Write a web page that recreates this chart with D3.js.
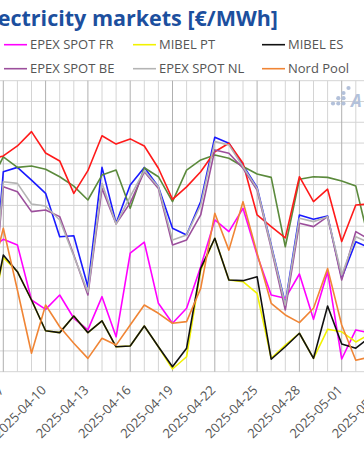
<!DOCTYPE html>
<html><head><meta charset="utf-8">
<script src="https://cdn.jsdelivr.net/npm/d3@7/dist/d3.min.js"></script>
<style>html,body{margin:0;padding:0;background:#fff;overflow:hidden}</style>
</head><body><div id="chart"></div>
<script>
// Dates: 2025-04-06 .. 2025-05-03
const dates = d3.range(28).map(i => new Date(Date.UTC(2025, 3, 6 + i)));
const tickDates = d3.range(10).map(i => new Date(Date.UTC(2025, 3, 7 + 3 * i)));

const seriesNames = ["S1", "S2", "S3", "EPEX SPOT FR", "MIBEL PT", "MIBEL ES", "EPEX SPOT BE", "EPEX SPOT NL", "Nord Pool"];
const seriesColors = ["#1a1aff", "#5b8a3c", "#ff1a1a", "#ff00ff", "#f2f200", "#111111", "#9c4f9c", "#b4b4b4", "#f08535"];

const blueVals   = [15, 96.2, 98.3, 92.2, 85.8, 64.9, 65.4, 40.9, 98.3, 71.4, 89.8, 98.3, 89.0, 69.0, 65.8, 81.8, 112.8, 109.9, 99.4, 88.7, 61.0, 32.9, 75.4, 73.3, 74.9, 45.0, 62.5, 59.5];
const greenVals  = [89.8, 103.4, 98.3, 99.0, 97.4, 93.8, 89.3, 82.6, 94.6, 97.0, 78.6, 98.1, 93.8, 81.8, 97.0, 101.9, 104.3, 102.7, 98.7, 95.1, 93.5, 60.1, 92.6, 93.8, 93.5, 91.7, 89.3, 61.0];
const redVals    = [101.9, 103.8, 108.6, 115.5, 105.2, 101.4, 85.8, 96.7, 113.5, 109.5, 112.0, 108.6, 97.9, 82.9, 88.9, 96.2, 105.8, 109.9, 100.3, 75.4, 69.8, 64.4, 93.8, 81.8, 87.8, 62.6, 80.2, 80.7];
const epexFR     = [58.5, 63.7, 61.0, 34.5, 30.0, 36.9, 25.7, 20.1, 36.1, 16.8, 57.0, 62.3, 32.9, 23.3, 30.5, 50.5, 73.0, 67.4, 78.6, 56.1, 36.9, 35.3, 47.0, 25.2, 48.1, 6.1, 20.1, 18.6];
const mibelPT    = [20.0, 55.0, 48.1, 34.5, 19.7, 18.8, 26.8, 18.8, 24.5, 12.0, 12.4, 22.0, 12.0, 1.3, 7.2, 48.9, 64.2, 44.1, 43.3, 37.7, 6.4, 12.8, 18.5, 6.4, 20.4, 19.2, 14.3, 18.1];
const mibelES    = [22.0, 56.1, 48.1, 34.5, 19.7, 18.8, 26.8, 18.8, 24.5, 12.0, 12.4, 22.0, 12.0, 2.4, 11.3, 49.7, 64.2, 44.1, 43.8, 45.7, 6.0, 12.0, 18.5, 6.4, 31.6, 13.3, 11.3, 16.7];
const epexBE     = [12, 89.0, 86.6, 77.0, 77.8, 74.6, 56.1, 36.9, 88.2, 71.1, 81.2, 96.2, 88.2, 61.0, 63.4, 75.4, 106.7, 105.1, 97.9, 87.4, 59.5, 29.7, 71.4, 69.8, 74.6, 44.1, 67.4, 63.4];
const epexNL     = [14, 91.4, 90.6, 80.7, 79.7, 73.0, 55.7, 38.3, 90.6, 71.1, 84.2, 96.7, 89.0, 63.4, 65.8, 80.2, 110.7, 109.1, 98.6, 88.2, 60.5, 32.1, 73.8, 72.2, 74.6, 46.5, 64.9, 61.9];
const nordPool   = [41.7, 69.0, 39.3, 8.9, 32.1, 21.6, 13.7, 6.4, 16.1, 12.8, 22.5, 32.1, 28.1, 23.3, 24.1, 40.1, 76.2, 58.5, 81.8, 57.0, 32.9, 27.3, 23.6, 30.5, 49.7, 22.5, 5.5, 7.1];

const allSeries = [blueVals, greenVals, redVals, epexFR, mibelPT, mibelES, epexBE, epexNL, nordPool];
const yTicks = d3.range(0, 141, 10);

const W = 364, H = 460;
const svg = d3.select("#chart").append("svg").attr("width", W).attr("height", H)
  .style("font-family", "'Open Sans', sans-serif");
svg.append("rect").attr("width", W).attr("height", H).attr("fill", "#fff");

const plotTop = 80.7, plotBottom = 371.7;
const x = d3.scaleUtc().domain([new Date(Date.UTC(2025,3,7)), new Date(Date.UTC(2025,4,1))]).range([3.3, 341.7]);
const y = d3.scaleLinear().domain([0, 140]).range([plotBottom, plotTop]);

// Title
svg.append("text").attr("x", 278).attr("y", 26).attr("text-anchor", "end")
  .attr("font-size", 21.5).attr("font-weight", 700).attr("fill", "#1c4f9e")
  .text("Electricity markets [€/MWh]");

// Legend (visible columns)
const legendItems = [
  {name: "EPEX SPOT FR", c: 3, col: 0, row: 0},
  {name: "MIBEL PT", c: 4, col: 1, row: 0},
  {name: "MIBEL ES", c: 5, col: 2, row: 0},
  {name: "EPEX SPOT BE", c: 6, col: 0, row: 1},
  {name: "EPEX SPOT NL", c: 7, col: 1, row: 1},
  {name: "Nord Pool", c: 8, col: 2, row: 1}
];
const lg = svg.append("g");
legendItems.forEach(it => {
  const lx = 4 + it.col * 129, ly = 44.7 + it.row * 24;
  lg.append("line").attr("x1", lx).attr("x2", lx + 23).attr("y1", ly).attr("y2", ly)
    .attr("stroke", seriesColors[it.c]).attr("stroke-width", 1.6);
  lg.append("text").attr("x", lx + 26).attr("y", ly + 4.6).attr("font-size", 13)
    .attr("fill", "#555").text(it.name);
});

// Grid
const grid = svg.append("g");
yTicks.forEach(t => {
  grid.append("line").attr("x1", 0).attr("x2", W).attr("y1", y(t)).attr("y2", y(t))
    .attr("stroke", "#d4d4d4").attr("stroke-width", 1);
});
dates.forEach((d, i) => {
  const major = (i - 1) % 3 === 0;
  grid.append("line").attr("x1", x(d)).attr("x2", x(d)).attr("y1", plotTop).attr("y2", plotBottom)
    .attr("stroke", major ? "#b0b0b0" : "#d4d4d4").attr("stroke-width", 1);
});

// Watermark logo
const wm = svg.append("g").attr("fill", "#b3c1da");
[[333,103.5],[338.3,103.5],[343.5,103.5],[338.3,98.2],[343.5,98.2],[343.5,93],[348.5,88]].forEach(p => {
  wm.append("circle").attr("cx", p[0]).attr("cy", p[1]).attr("r", 2.1);
});
wm.append("text").attr("x", 351).attr("y", 107).attr("font-size", 17).attr("font-style", "italic")
  .attr("font-weight", 700).text("A");

// Lines
const line = d3.line().x((d, i) => x(dates[i])).y(d => y(d));
const lines = svg.append("g");
allSeries.forEach((s, k) => {
  lines.append("path").datum(s).attr("d", line).attr("fill", "none")
    .attr("stroke", seriesColors[k]).attr("stroke-width", 1.6).attr("stroke-linejoin", "round");
});

// X labels
const xl = svg.append("g");
tickDates.forEach(d => {
  xl.append("text").attr("transform", `translate(${x(d) + 1.5},391) rotate(-45)`)
    .attr("text-anchor", "end").attr("font-size", 13).attr("fill", "#555")
    .text(d3.utcFormat("%Y-%m-%d")(d));
});
</script></body></html>
